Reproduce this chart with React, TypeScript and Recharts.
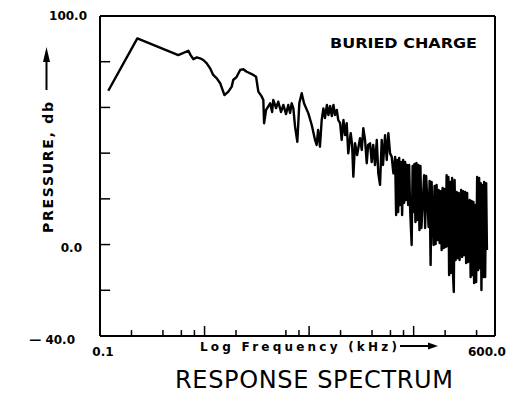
import React from 'react';
import { LineChart, Line, XAxis, YAxis, ReferenceLine } from 'recharts';

// Frequency (kHz) and pressure (dB)
const freqKHz = [
  0.120, 0.2275, 0.561, 0.700, 0.736, 0.781, 0.842, 0.906, 0.974, 1.05,
  1.13, 1.21, 1.31, 1.41, 1.55, 1.69, 1.82, 1.88, 2.03, 2.19,
  2.35, 2.53, 2.83, 3.11, 3.27, 3.53, 3.65, 3.71, 3.88, 4.24,
  4.43, 4.54, 4.83, 5.07, 5.39, 5.67, 6.02, 6.32, 6.58, 6.82,
  7.07, 7.34, 7.72, 8.06, 8.50, 8.94, 9.84, 10.6, 11.4, 11.8,
  12.2, 12.7, 13.2, 13.7, 14.2, 14.8, 15.3, 15.9, 16.5, 17.1,
  17.7, 18.4, 19.0, 19.8, 20.5, 21.3, 22.1, 22.9, 23.7, 25.0,
  25.8, 26.5, 27.5, 28.8, 30.7, 31.9, 33.0, 34.3, 35.6, 36.7,
  38.3, 39.7, 41.1, 42.7, 44.4, 45.9, 47.7, 49.5, 50.9, 53.3,
  55.3, 57.3, 59.5, 61.7, 64.0,
  66.5, 68.0, 69.5, 71.1, 72.7, 74.3, 75.9, 77.6, 79.4, 81.1,
  82.9, 84.8, 86.7, 88.6, 90.6, 92.6, 95.7, 97.8, 99.5, 101.8,
  104.0, 106.3, 108.7, 111.1, 113.6, 116.1, 118.7, 126.0, 128.8, 131.7,
  139.0, 142.1, 145.3, 148.5, 155.2, 158.7, 162.2, 165.8, 169.5, 173.3,
  177.2, 181.1, 185.2, 189.3, 193.5, 197.8, 202.2, 206.7, 211.3, 215.0,
  218.4, 223.2, 228.2, 233.3, 238.5, 242.2, 246.5, 252.0, 257.6, 263.4,
  269.2, 275.2, 284.5, 290.9, 297.4, 304.0, 310.8, 317.7, 324.8, 332.0,
  343.2, 350.8, 358.6, 366.6, 373.1, 378.9, 387.4, 396.0, 404.8, 413.8,
  423.1, 430.6, 437.3, 445.1, 452.0, 462.0, 472.3, 482.9, 493.6, 502.4,
];

const pressureDb = [
  67.3, 90.2, 82.9, 84.8, 82.9, 81.1, 81.9, 81.5, 80.75, 79.3,
  77.1, 74.2, 72.7, 70.6, 65.4, 66.9, 69.1, 72.0, 73.4, 76.4,
  76.7, 75.6, 74.6, 73.4, 66.9, 64.7, 63.25, 53.1, 58.9, 61.8,
  58.0, 63.25, 59.75, 62.5, 58.0, 61.1, 57.1, 61.1, 57.6, 61.8,
  59.6, 51.6, 45.0, 61.8, 66.2, 61.8, 57.4, 52.3, 45.75, 43.6,
  50.1, 42.8, 54.5, 59.6, 55.4, 61.1, 56.7, 60.6, 56.25, 61.1,
  56.7, 58.9, 54.5, 53.1, 45.75, 54.5, 47.9, 53.1, 39.9, 48.7,
  43.6, 29.7, 44.3, 39.2, 46.5, 41.4, 50.9, 45.75, 35.6, 43.6,
  44.3, 36.1, 43.6, 34.8, 45.75, 31.2, 26.1, 45.75, 34.8, 47.9,
  37.0, 48.7, 39.9, 38.4, 31.2,
  38.3, 12.9, 37.0, 14.25, 37.9, 17.3, 36.1, 12.9, 37.0, 18.2,
  36.1, 19.5, 34.8, 17.3, 34.8, 15.1, -0.2, 34.4, 14.25, 35.25,
  9.9, 35.7, 10.75, 34.8, 6.4, 34.4, 7.25, 30.4, 7.25, 30.0,
  7.7, 27.8, -8.9, 27.4, -0.2, 25.6, 0.25, 26.1, 2.0, 23.9,
  0.7, 23.4, -2.4, 24.75, -1.5, 24.3, -1.1, 30.4, -0.6, 29.6,
  -13.3, 27.4, -12.4, 29.1, -14.2, -20.75, 28.25, -6.75, 23.0, -5.9,
  22.6, -6.75, 23.9, -5.4, 23.4, -4.6, 23.0, -8.1, 22.6, -7.6,
  19.5, -14.2, 19.1, -13.3, 18.6, -16.8, 17.3, -16.4, 29.6, -11.1,
  29.1, -10.25, 26.9, -19.9, 26.1, -14.2, 27.4, -14.2, 26.9, -2.4,
];

const xMinorTicks = [0.2, 0.4, 0.6, 0.8, 2, 6, 8, 20, 40, 60, 80, 200, 400];
const xMajorTicks = [1, 10, 100];
const yInnerTicks = [80, 60, 40, 20, 0, -20];
const yLabelTicks = [-40, 0, 100];
const xLabelTicks = [0.1, 600];

const data = freqKHz.map((f, i) => ({ f, p: pressureDb[i] }));

const FONT = '"DejaVu Sans", sans-serif';

const yLabelText: Record<number, string> = { 100: '100.0', 0: '0.0', [-40]: '\u2014 40.0' };
const yLabelDx: Record<number, number> = { 100: -13, 0: -18, [-40]: -25 };
const yLabelDy: Record<number, number> = { 100: 4, 0: 7, [-40]: 8 };

const YTick = (props: any) => {
  const { x, y, payload } = props;
  const v = payload.value;
  return (
    <text x={x + (yLabelDx[v] ?? 0)} y={y + (yLabelDy[v] ?? 0)} textAnchor="end"
      fontFamily={FONT} fontWeight="bold" fontSize={12} fill="#000">
      {yLabelText[v]}
    </text>
  );
};

const XTick = (props: any) => {
  const { x, y, payload } = props;
  const v = payload.value;
  const label = v === 600 ? '600.0' : '0.1';
  const dx = v === 600 ? -8 : 3;
  return (
    <text x={x + dx} y={y + 20} textAnchor="middle" fontFamily={FONT}
      fontWeight="bold" fontSize={12} fill="#000">
      {label}
    </text>
  );
};

export default function App() {
  return (
    <div style={{ position: 'absolute', left: 0, top: 0, width: 525, height: 393, background: '#fff' }}>
      <LineChart width={525} height={393} data={data}
        margin={{ top: 16, right: 30, bottom: 27, left: 40 }}>
        <XAxis dataKey="f" type="number" scale="log" domain={[0.1, 600]}
          allowDataOverflow ticks={xLabelTicks} tick={<XTick />}
          tickLine={false} tickSize={0} tickMargin={0} height={30}
          axisLine={{ stroke: '#000', strokeWidth: 2 }} />
        <YAxis type="number" domain={[-40, 100]} allowDataOverflow
          ticks={yLabelTicks} tick={<YTick />} tickLine={false}
          tickSize={0} tickMargin={0} width={60}
          axisLine={{ stroke: '#000', strokeWidth: 2 }} />
        <ReferenceLine y={100} stroke="#000" strokeWidth={2} />
        <ReferenceLine x={600} stroke="#000" strokeWidth={2} />
        {xMinorTicks.map((t) => (
          <ReferenceLine key={'mx' + t} segment={[{ x: t, y: -40 }, { x: t, y: -37.4 }]}
            stroke="#000" strokeWidth={1.5} />
        ))}
        {xMajorTicks.map((t) => (
          <ReferenceLine key={'Mx' + t} segment={[{ x: t, y: -40 }, { x: t, y: -35.6 }]}
            stroke="#000" strokeWidth={1.5} />
        ))}
        {yInnerTicks.map((t) => (
          <ReferenceLine key={'y' + t} segment={[{ x: 0.1, y: t }, { x: 0.125, y: t }]}
            stroke="#000" strokeWidth={1.5} />
        ))}
        <Line type="linear" dataKey="p" stroke="#000" strokeWidth={2.4}
          dot={false} isAnimationActive={false} strokeLinejoin="round" />
      </LineChart>
      <svg width={525} height={393} style={{ position: 'absolute', left: 0, top: 0, pointerEvents: 'none' }}>
        <text x={330} y={48} textLength={147} lengthAdjust="spacingAndGlyphs"
          fontFamily={FONT} fontWeight="bold" fontSize={14} fill="#000">BURIED CHARGE</text>
        <text x={200} y={351} textLength={197} lengthAdjust="spacing"
          fontFamily={FONT} fontWeight="bold" fontSize={12} fill="#000">Log  Frequency (kHz)</text>
        <line x1={400} y1={346} x2={430} y2={346} stroke="#000" strokeWidth={2} />
        <polygon points="428,342.5 438,346 428,349.5" fill="#000" />
        <text x={175} y={388} textLength={278} lengthAdjust="spacing"
          fontFamily={FONT} fontSize={24} fill="#000">RESPONSE SPECTRUM</text>
        <text transform="translate(53,233) rotate(-90)" x={0} y={0} textLength={131}
          lengthAdjust="spacing" fontFamily={FONT} fontWeight="bold" fontSize={14} fill="#000">PRESSURE, db</text>
        <line x1={46.5} y1={90} x2={46.5} y2={58} stroke="#000" strokeWidth={2} />
        <polygon points="43,62 46.5,47 50,62" fill="#000" />
      </svg>
    </div>
  );
}
